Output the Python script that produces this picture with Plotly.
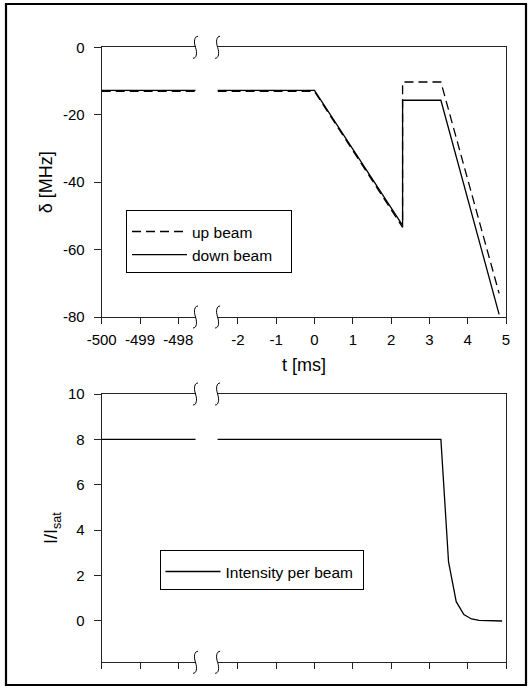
import plotly.graph_objects as go

W, H = 532, 688

# ---------------- data ----------------
t_det = [-500, 0, 2.3, 2.3, 3.3, 4.82]
up_beam = [-13.1, -13.1, -53.4, -10.3, -10.3, -73.0]
down_beam = [-12.8, -12.8, -52.8, -15.7, -15.7, -79.2]

t_int = [-500, 3.3, 3.5, 3.7, 3.9, 4.1, 4.3, 4.5, 4.7, 4.9]
intensity = [8, 8, 2.6, 0.85, 0.28, 0.09, 0.03, 0.01, 0.0, 0.0]

left_ticks = [-500, -499, -498]
right_ticks = [-2, -1, 0, 1, 2, 3, 4, 5]
det_ticks = [0, -20, -40, -60, -80]
int_ticks = [0, 2, 4, 6, 8, 10]

# ---------------- layout geometry (pixels) ----------------
px_left, px_brk_l, px_brk_r, px_right = 101.7, 195.5, 217.6, 506.0
top_y0, top_y1 = 47.3, 317.0
bot_y0, bot_y1 = 394.0, 662.3
ppu = 38.3  # pixels per ms

def fx(p):
    return p / W

def fy(p):
    return 1 - p / H

left_range = [-500, -500 + (px_brk_l - px_left) / ppu]
right_range = [5 - (px_right - px_brk_r) / ppu, 5]

FONT = "Liberation Sans, Arial, sans-serif"
AXC = "#222222"
NB = "\u00a0"

fig = go.Figure()

def add_line(x, y, xa, ya, name, dash, legend, show, pad):
    fig.add_trace(go.Scatter(
        x=x, y=y, mode="lines", name=name + NB * pad, xaxis=xa, yaxis=ya,
        line=dict(color="black", width=1.3, dash=dash),
        showlegend=show, legend=legend, hoverinfo="skip"))

for xa, ya, show in [("x", "y", False), ("x2", "y2", True)]:
    add_line(t_det, up_beam, xa, ya, "up beam", "9px,5px", "legend", show, 3)
    add_line(t_det, down_beam, xa, ya, "down beam", "solid", "legend", show, 3)
for xa, ya, show in [("x3", "y3", False), ("x4", "y4", True)]:
    add_line(t_int, intensity, xa, ya, "Intensity per beam", "solid", "legend2", show, 1)

tickfont = dict(family=FONT, size=15, color="black")
common_x = dict(showline=True, linecolor=AXC, linewidth=1, mirror=True,
                ticks="outside", ticklen=6, tickcolor=AXC, tickwidth=1,
                showgrid=False, zeroline=False, automargin=False,
                tickfont=tickfont, ticklabelstandoff=3)
common_y = dict(showline=True, linecolor=AXC, linewidth=1,
                showgrid=False, zeroline=False, automargin=False,
                tickfont=tickfont)

legend_common = dict(xanchor="left", yanchor="top",
                     bordercolor="black", borderwidth=1, bgcolor="white",
                     font=dict(family=FONT, size=15.5), itemwidth=55,
                     title=dict(text=" ", font=dict(size=3)))

fig.update_layout(
    width=W, height=H, margin=dict(l=0, r=0, t=0, b=0),
    paper_bgcolor="white", plot_bgcolor="white",
    font=dict(family=FONT, color="black"),
    xaxis=dict(common_x, domain=[fx(px_left), fx(px_brk_l)], range=left_range,
               tickvals=left_ticks, ticktext=[str(v) for v in left_ticks], anchor="y"),
    xaxis2=dict(common_x, domain=[fx(px_brk_r), fx(px_right)], range=right_range,
                tickvals=right_ticks, ticktext=[str(v) for v in right_ticks], anchor="y2"),
    xaxis3=dict(common_x, domain=[fx(px_left), fx(px_brk_l)], range=left_range,
                tickvals=left_ticks, showticklabels=False, anchor="y3"),
    xaxis4=dict(common_x, domain=[fx(px_brk_r), fx(px_right)], range=right_range,
                tickvals=right_ticks, showticklabels=False, anchor="y4"),
    yaxis=dict(common_y, domain=[fy(top_y1), fy(top_y0)], range=[-80, 0],
               tickvals=det_ticks, ticktext=[str(v) for v in det_ticks],
               ticks="outside", ticklen=7, tickcolor=AXC,
               ticklabelstandoff=6, anchor="x",
               title=dict(text="δ [MHz]", font=dict(family=FONT, size=18), standoff=5)),
    yaxis2=dict(common_y, domain=[fy(top_y1), fy(top_y0)], range=[-80, 0],
                side="right", ticks="", showticklabels=False, anchor="x2"),
    yaxis3=dict(common_y, domain=[fy(bot_y1), fy(bot_y0)], range=[-1.82, 10],
                tickvals=int_ticks, ticktext=[str(v) for v in int_ticks],
                ticks="outside", ticklen=7, tickcolor=AXC,
                ticklabelstandoff=6, anchor="x3",
                title=dict(text="I/I<sub>sat</sub>", font=dict(family=FONT, size=18), standoff=5)),
    yaxis4=dict(common_y, domain=[fy(bot_y1), fy(bot_y0)], range=[-1.82, 10],
                side="right", ticks="", showticklabels=False, anchor="x4"),
    legend=dict(legend_common, x=fx(126), y=fy(210)),
    legend2=dict(legend_common, x=fx(159.5), y=fy(550)),
)

# x-axis title centred under the broken axis
fig.add_annotation(text="t [ms]", xref="paper", yref="paper",
                   x=fx((px_left + px_right) / 2), y=fy(365), showarrow=False,
                   font=dict(family=FONT, size=18, color="black"),
                   xanchor="center", yanchor="middle")

# break marks
def brk_path(xc, yc):
    pts = [(xc + 2.5, yc - 11), (xc - 1, yc - 11), (xc - 2, yc - 6), (xc, yc),
           (xc + 2, yc + 6), (xc + 1, yc + 11), (xc - 2.5, yc + 11)]
    p = [(fx(a), fy(b)) for a, b in pts]
    return ("M{:.5f},{:.5f} C{:.5f},{:.5f} {:.5f},{:.5f} {:.5f},{:.5f} "
            "C{:.5f},{:.5f} {:.5f},{:.5f} {:.5f},{:.5f}").format(*[v for q in p for v in q])

for yc in [top_y0, top_y1, bot_y0, bot_y1]:
    for xc in [px_brk_l, px_brk_r]:
        fig.add_shape(type="path", xref="paper", yref="paper", path=brk_path(xc, yc),
                      line=dict(color="black", width=1))

# outer frame
fig.add_shape(type="rect", xref="paper", yref="paper",
              x0=fx(6), x1=fx(526), y0=fy(685), y1=fy(4),
              line=dict(color="black", width=2.2))

fig.write_html("out.html", config={"displayModeBar": False},
               post_script="document.body.style.margin='0';document.body.style.overflow='hidden';")
